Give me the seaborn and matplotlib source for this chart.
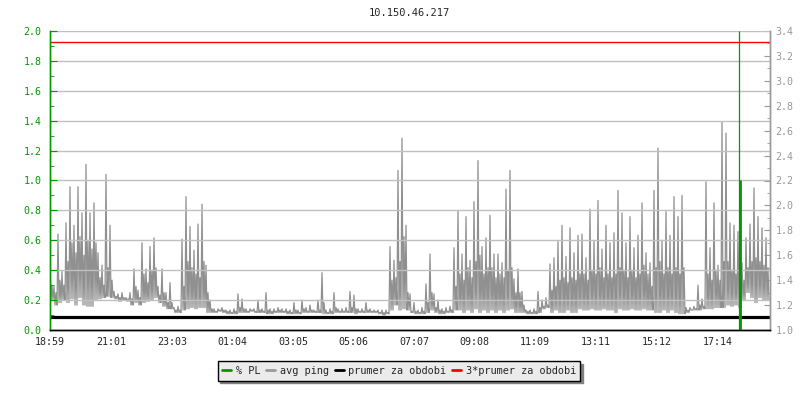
import numpy as np
import pandas as pd
import seaborn as sns
import matplotlib.pyplot as plt
from matplotlib.lines import Line2D
from matplotlib.ticker import MultipleLocator

# chart data
host = "10.150.46.217"
start = "18:59"
tick_labels = ["18:59", "21:01", "23:03", "01:04", "03:05", "05:06",
               "07:07", "09:08", "11:09", "13:11", "15:12", "17:14"]

# avg ping (ms), read per 8 minute bin: peak, typical level, floor
ping_high = [
    1.54, 1.35, 1.77, 1.47, 1.86, 2.15, 1.84, 2.15, 1.94, 2.33, 1.94, 2.02, 1.62, 1.52, 2.25,
    1.84, 1.31, 1.29, 1.30, 1.26, 1.30, 1.49, 1.32, 1.70, 1.49, 1.67, 1.74, 1.35, 1.49, 1.30,
    1.38, 1.18, 1.19, 1.73, 2.07, 1.83, 1.64, 1.85, 2.01, 1.52, 1.24, 1.17, 1.17, 1.18, 1.16,
    1.16, 1.17, 1.29, 1.25, 1.17, 1.17, 1.17, 1.24, 1.17, 1.30, 1.17, 1.17, 1.18, 1.17, 1.17,
    1.16, 1.22, 1.16, 1.24, 1.18, 1.20, 1.16, 1.24, 1.46, 1.16, 1.17, 1.30, 1.17, 1.17, 1.18,
    1.31, 1.28, 1.17, 1.17, 1.22, 1.17, 1.16, 1.16, 1.16, 1.16, 1.67, 1.56, 2.28, 2.54, 1.84,
    1.29, 1.22, 1.16, 1.18, 1.37, 1.61, 1.29, 1.24, 1.17, 1.18, 1.19, 1.66, 1.96, 1.61, 1.91,
    1.56, 2.03, 2.36, 1.67, 1.74, 1.92, 1.61, 1.61, 1.54, 2.13, 2.28, 1.41, 1.49, 1.31, 1.16,
    1.16, 1.17, 1.31, 1.24, 1.26, 1.53, 1.58, 1.71, 1.84, 1.59, 1.82, 1.62, 1.76, 1.77, 1.58,
    1.97, 1.71, 2.04, 1.65, 1.84, 1.70, 1.78, 2.12, 1.94, 1.70, 1.91, 1.66, 1.76, 2.02, 1.62,
    1.54, 2.12, 2.46, 1.72, 1.95, 1.76, 2.07, 1.91, 2.08, 1.18, 1.18, 1.19, 1.36, 1.25, 2.19,
    1.66, 2.02, 1.52, 2.67, 2.58, 1.86, 1.84, 1.79, 1.54, 1.74, 1.85, 2.14, 1.91, 1.82, 1.74,
]
ping_mid = [
    1.36, 1.30, 1.40, 1.36, 1.55, 1.70, 1.62, 1.75, 1.60, 1.72, 1.65, 1.70, 1.42, 1.36, 1.50,
    1.40, 1.27, 1.26, 1.26, 1.25, 1.25, 1.35, 1.26, 1.45, 1.38, 1.48, 1.50, 1.28, 1.30, 1.22,
    1.22, 1.16, 1.16, 1.35, 1.55, 1.50, 1.45, 1.42, 1.55, 1.30, 1.17, 1.15, 1.16, 1.16, 1.15,
    1.14, 1.15, 1.18, 1.17, 1.15, 1.16, 1.15, 1.16, 1.15, 1.16, 1.15, 1.15, 1.16, 1.15, 1.15,
    1.14, 1.16, 1.14, 1.17, 1.15, 1.16, 1.15, 1.16, 1.22, 1.14, 1.15, 1.18, 1.15, 1.15, 1.15,
    1.18, 1.17, 1.15, 1.15, 1.16, 1.15, 1.15, 1.14, 1.14, 1.14, 1.40, 1.42, 1.55, 1.75, 1.30,
    1.15, 1.15, 1.14, 1.15, 1.22, 1.30, 1.18, 1.16, 1.15, 1.15, 1.16, 1.35, 1.45, 1.40, 1.50,
    1.42, 1.55, 1.60, 1.45, 1.50, 1.50, 1.42, 1.45, 1.42, 1.48, 1.50, 1.30, 1.30, 1.20, 1.15,
    1.14, 1.15, 1.18, 1.19, 1.20, 1.32, 1.35, 1.40, 1.42, 1.38, 1.42, 1.40, 1.45, 1.45, 1.40,
    1.48, 1.45, 1.50, 1.42, 1.45, 1.42, 1.45, 1.50, 1.48, 1.42, 1.48, 1.42, 1.45, 1.52, 1.45,
    1.35, 1.50, 1.55, 1.45, 1.50, 1.45, 1.50, 1.45, 1.50, 1.16, 1.16, 1.17, 1.20, 1.19, 1.45,
    1.40, 1.48, 1.40, 1.55, 1.55, 1.48, 1.45, 1.42, 1.40, 1.50, 1.55, 1.58, 1.55, 1.52, 1.50,
]
ping_low = [
    1.24, 1.20, 1.22, 1.24, 1.22, 1.25, 1.20, 1.26, 1.20, 1.19, 1.19, 1.24, 1.25, 1.26, 1.27,
    1.26, 1.25, 1.23, 1.24, 1.23, 1.20, 1.22, 1.20, 1.22, 1.23, 1.24, 1.26, 1.22, 1.19, 1.17,
    1.17, 1.14, 1.14, 1.16, 1.17, 1.18, 1.17, 1.18, 1.18, 1.14, 1.14, 1.14, 1.15, 1.14, 1.13,
    1.13, 1.13, 1.14, 1.14, 1.14, 1.15, 1.14, 1.14, 1.14, 1.13, 1.13, 1.14, 1.14, 1.14, 1.13,
    1.13, 1.13, 1.13, 1.14, 1.14, 1.14, 1.14, 1.14, 1.13, 1.13, 1.13, 1.14, 1.14, 1.14, 1.14,
    1.14, 1.13, 1.14, 1.14, 1.14, 1.14, 1.14, 1.13, 1.12, 1.13, 1.16, 1.20, 1.16, 1.17, 1.16,
    1.14, 1.13, 1.13, 1.13, 1.14, 1.16, 1.14, 1.13, 1.13, 1.14, 1.14, 1.16, 1.16, 1.14, 1.16,
    1.14, 1.17, 1.14, 1.16, 1.14, 1.16, 1.14, 1.16, 1.14, 1.16, 1.17, 1.14, 1.14, 1.14, 1.13,
    1.13, 1.13, 1.14, 1.17, 1.18, 1.14, 1.16, 1.14, 1.14, 1.16, 1.14, 1.14, 1.17, 1.16, 1.16,
    1.17, 1.16, 1.16, 1.17, 1.16, 1.16, 1.14, 1.17, 1.16, 1.16, 1.17, 1.16, 1.16, 1.17, 1.16,
    1.16, 1.14, 1.14, 1.16, 1.14, 1.16, 1.14, 1.13, 1.13, 1.14, 1.16, 1.16, 1.16, 1.17, 1.17,
    1.17, 1.18, 1.18, 1.18, 1.20, 1.19, 1.20, 1.18, 1.24, 1.30, 1.26, 1.22, 1.26, 1.24, 1.24,
]

prumer = 1.104          # period average ping (ms)
pl_time = ["17:57"]     # packet loss event
pl_value = [1.0]        # % PL

GREEN = "#009900"
GRAY = "#999999"


def minutes(hhmm):
    h, m = map(int, hhmm.split(":"))
    h0, m0 = map(int, start.split(":"))
    return ((h * 60 + m) - (h0 * 60 + m0)) % 1440


# interleave peak / floor / level / floor -> one sample every 2 minutes
vals = np.column_stack([ping_high, ping_low, ping_mid, ping_low]).ravel()
df = pd.DataFrame({"t": np.arange(len(vals)) * 2, "ping": vals})

sns.set_style("white")
plt.rcParams["font.family"] = ["DejaVu Sans Mono", "DejaVu Sans"]
plt.rcParams["font.size"] = 7.2

fig = plt.figure(figsize=(8, 4), dpi=100)
ax2 = fig.add_axes([50 / 800, 70 / 400, 720 / 800, 299 / 400])
ax = ax2.twinx()
ax.yaxis.tick_left()
ax2.yaxis.tick_right()
ax.set_zorder(ax2.get_zorder() + 1)
ax.patch.set_visible(False)

# ping + averages on the right axis
sns.lineplot(data=df, x="t", y="ping", ax=ax2, color="#909090", lw=0.9,
             estimator=None)
ax2.axhline(prumer, color="black", lw=2.3)
ax2.axhline(3 * prumer, color="red", lw=1.0)

# packet loss on the left axis
pl_t = [minutes(s) for s in pl_time]
ax.vlines(pl_t, 0, 2.0, color=GREEN, lw=0.9)
ax.vlines([t + 1 for t in pl_t], 0, pl_value, color=GREEN, lw=2.0)

ax.set_xlim(0, 1440)
ax2.set_xlabel("")
ax2.set_ylabel("")

ax.yaxis.set_minor_locator(MultipleLocator(0.1))
ax.set_yticks(np.arange(0, 2.01, 0.2))
ax.set_yticklabels([f"{v:.1f}" for v in ax.get_yticks()])
ax2.yaxis.set_minor_locator(MultipleLocator(0.1))
ax2.set_yticks(np.arange(1.0, 3.41, 0.2))
ax2.set_yticklabels([f"{v:.1f}" for v in ax2.get_yticks()])
ax.set_ylim(0, 2.0)
ax2.set_ylim(1.0, 3.4)

ax.grid(axis="y", color="#c0c0c0", lw=1.0)
ax2.grid(False)

ax2.set_xticks([minutes(s) for s in tick_labels])
ax2.set_xticklabels(tick_labels)
ax2.set_xlim(0, 1440)

ax.tick_params(axis="y", which="major", direction="in", length=5, colors=GREEN,
               labelcolor=GREEN, pad=6, labelsize=7.2)
ax.tick_params(axis="y", which="minor", direction="in", length=3, color=GREEN)
ax2.tick_params(axis="y", which="major", direction="in", length=4, colors=GRAY,
                labelcolor=GRAY, pad=4, labelsize=7.2)
ax2.tick_params(axis="y", which="minor", direction="in", length=2.5, color=GRAY)
ax2.tick_params(axis="x", direction="in", length=5, color="black", pad=5,
                labelsize=7.2)
ax.tick_params(axis="x", bottom=False, labelbottom=False)

for a in (ax, ax2):
    a.spines["top"].set_visible(False)
    a.spines["bottom"].set_color("black")
    a.spines["left"].set_color(GREEN)
    a.spines["right"].set_color(GRAY)
    for s in a.spines.values():
        s.set_linewidth(1.0)

fig.text(409 / 800, 1 - 13 / 400, host, ha="center", va="center", fontsize=7.5)

handles = [Line2D([], [], color=GREEN, lw=2),
           Line2D([], [], color=GRAY, lw=2),
           Line2D([], [], color="black", lw=2),
           Line2D([], [], color="red", lw=2)]
labels = ["% PL", "avg ping", "prumer za obdobi", "3*prumer za obdobi"]
fig.legend(handles, labels, loc="center", bbox_to_anchor=(399 / 800, 1 - 371 / 400),
           ncol=4, frameon=True, fancybox=False, framealpha=1,
           facecolor="#ebebeb", edgecolor="black",
           shadow={"ox": 1.6, "oy": -1.6, "color": "#808080", "alpha": 1},
           handlelength=0.9, handletextpad=0.4, columnspacing=0.6,
           borderpad=0.45, fontsize=7.4)

fig.savefig("out.png", dpi=100)
